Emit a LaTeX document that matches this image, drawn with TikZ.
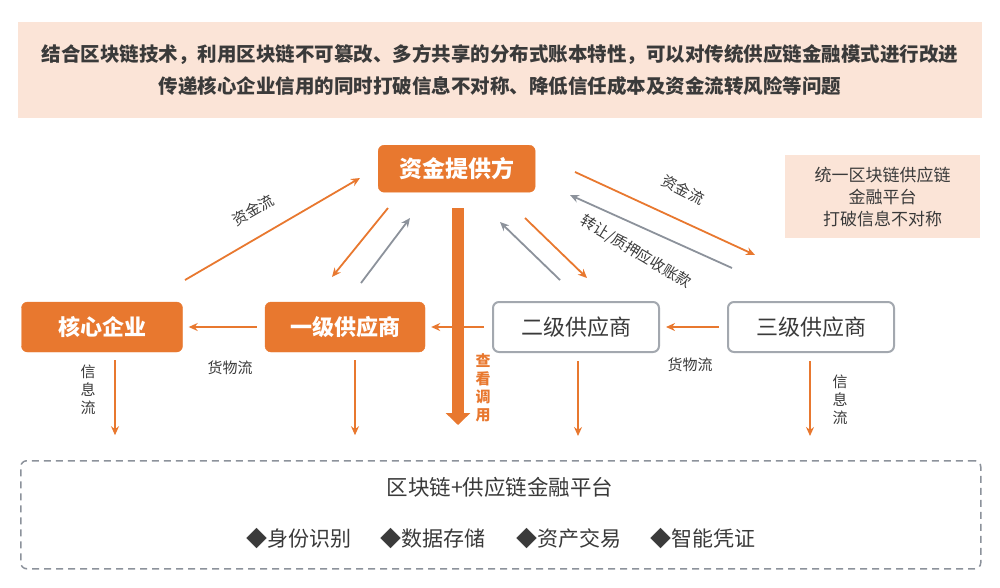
\documentclass[tikz,border=0pt]{standalone}
\usepackage{fontspec}
\newfontfamily\cjk{Noto Sans CJK SC}
\usetikzlibrary{arrows.meta}
\definecolor{org}{HTML}{E8782F}
\definecolor{peach}{HTML}{FBE4D7}
\definecolor{txt}{HTML}{3A3A3A}
\definecolor{gr}{HTML}{8C929B}
\begin{document}
\begin{tikzpicture}[x=1pt,y=-1pt,font=\cjk,
  obox/.style={draw=org,fill=org,rounded corners=6pt,text=white,font=\cjk\bfseries\fontsize{22}{24}\selectfont},
  wbox/.style={draw=gr!80,line width=2pt,fill=white,rounded corners=6pt,text=txt,font=\cjk\fontsize{22}{24}\selectfont},
  oa/.style={draw=org,line width=1.8pt,-{Stealth[length=9pt,width=8pt]}},
  ga/.style={draw=gr,line width=1.8pt,-{Stealth[length=9pt,width=8pt]}},
  lab/.style={text=txt,font=\cjk\fontsize{15}{18}\selectfont}]
\useasboundingbox (0,0) rectangle (1000,587);
\node[fill=peach,minimum width=964,minimum height=96,anchor=north west,inner sep=0] (ban) at (18,22) {};
\node[text=txt,font=\cjk\bfseries\fontsize{19.5}{22}\selectfont,align=center] (bt) at (500,70) {结合区块链技术，利用区块链不可篡改、多方共享的分布式账本特性，可以对传统供应链金融模式进行改进\\[10pt]传递核心企业信用的同时打破信息不对称、降低信任成本及资金流转风险等问题};
\node[obox,minimum width=157,minimum height=47,anchor=north west] (fund) at (378,145) {};
\node[text=white,font=\cjk\bfseries\fontsize{23}{24}\selectfont] at (fund) {资金提供方};
\node[fill=peach,minimum width=195,minimum height=83,anchor=north west,inner sep=0] (plat) at (785,155) {};
\node[text=txt,font=\cjk\fontsize{17}{22}\selectfont,align=center] at (plat) {统一区块链供应链\\金融平台\\打破信息不对称};
\node[obox,minimum width=161,minimum height=50] (core) at (102,327) {核心企业};
\node[obox,minimum width=160,minimum height=50] (s1) at (345,327) {一级供应商};
\node[wbox,minimum width=166,minimum height=50] (s2) at (576,327) {二级供应商};
\node[wbox,minimum width=166,minimum height=50] (s3) at (811,327) {三级供应商};
\node[draw=gr,line width=1.5pt,dash pattern=on 7pt off 5pt,rounded corners=6pt,minimum width=960,minimum height=108,anchor=north west] (bc) at (20,460) {};
\node[text=txt,font=\cjk\fontsize{21.5}{24}\selectfont] (bt1) at (500,487) {区块链+供应链金融平台};
\node[text=txt,font=\cjk\fontsize{21}{24}\selectfont] (bt2) at (501,539) {◆身份识别\hspace{30pt}◆数据存储\hspace{30pt}◆资产交易\hspace{30pt}◆智能凭证};
% arrows
\coordinate (a1) at (185,280); \coordinate (a2) at (360,178);
\draw[oa] (a1) -- (a2);
\node[lab,rotate=30] at (253,210) {资金流};
\coordinate (b1) at (388,208); \coordinate (b2) at (332,277);
\draw[oa] (b1) -- (b2);
\coordinate (c1) at (361,283); \coordinate (c2) at (410,218);
\draw[ga] (c1) -- (c2);
\coordinate (d1) at (560,280); \coordinate (d2) at (500,222);
\draw[ga] (d1) -- (d2);
\coordinate (e1) at (525,218); \coordinate (e2) at (587,278);
\draw[oa] (e1) -- (e2);
\coordinate (f1) at (575,172); \coordinate (f2) at (755,255);
\draw[oa] (f1) -- (f2);
\node[lab,rotate=-27] at (683,190) {资金流};
\coordinate (g1) at (732,268); \coordinate (g2) at (570,195);
\draw[ga] (g1) -- (g2);
\node[lab,rotate=-31] at (636,252) {转让/质押应收账款};
\coordinate (h1) at (458,208); \coordinate (h2) at (458,425);
\draw[org,line width=12pt,-{Triangle[length=12pt,width=24pt]}] (h1) -- (h2);
\node[text=org,font=\cjk\bfseries\fontsize{15}{18}\selectfont,align=center] at (483,388) {查\\看\\调\\用};
\draw[oa] ([xshift=-8pt]s1.west) -- ([xshift=6pt]core.east);
\draw[oa] ([xshift=-8pt]s2.west) -- ([xshift=6pt]s1.east);
\draw[oa] ([xshift=-8pt]s3.west) -- ([xshift=6pt]s2.east);
\node[lab] at (230,368) {货物流};
\node[lab] at (690,365) {货物流};
\draw[oa] ([xshift=13pt,yshift=-8pt]core.south) -- ++(0,75);
\draw[oa] ([xshift=10pt,yshift=-8pt]s1.south) -- ++(0,75);
\draw[oa] ([xshift=2pt,yshift=-8pt]s2.south) -- ++(0,75);
\draw[oa] ([xshift=-1pt,yshift=-8pt]s3.south) -- ++(0,75);
\node[lab,align=center] at (88,390) {信\\息\\流};
\node[lab,align=center] at (840,400) {信\\息\\流};
\end{tikzpicture}
\end{document}
